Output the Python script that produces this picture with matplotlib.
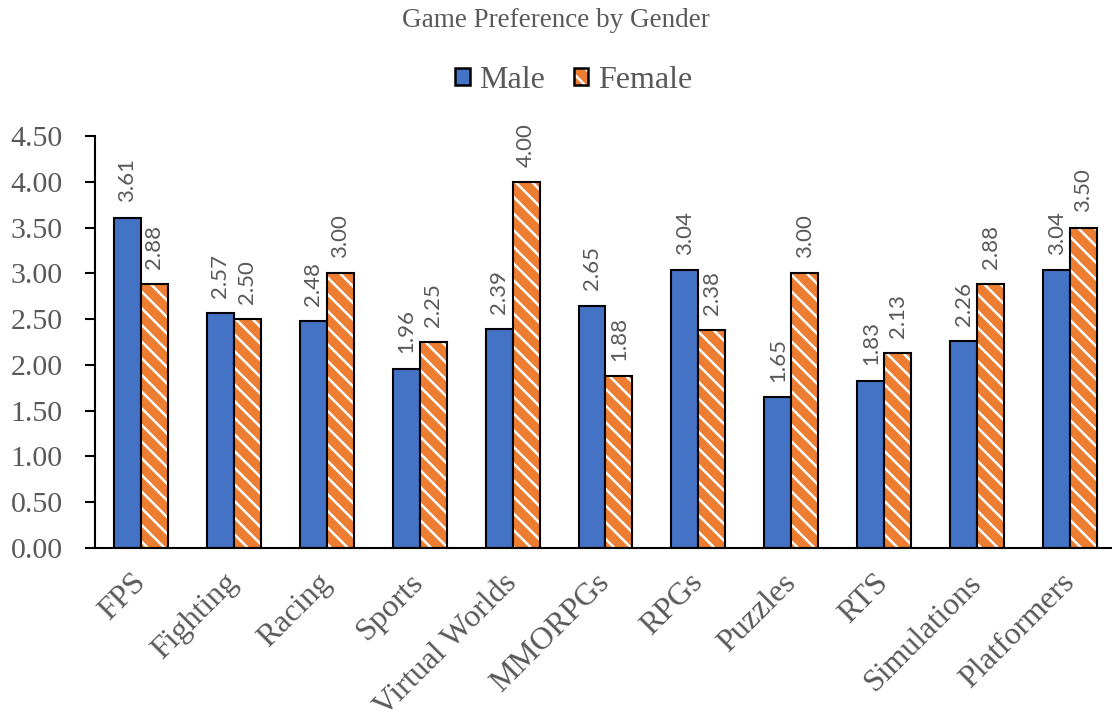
import numpy as np
import matplotlib.pyplot as plt
from matplotlib.patches import Patch

categories = ['FPS', 'Fighting', 'Racing', 'Sports', 'Virtual Worlds', 'MMORPGs',
              'RPGs', 'Puzzles', 'RTS', 'Simulations', 'Platformers']
male = [3.61, 2.57, 2.48, 1.96, 2.39, 2.65, 3.04, 1.65, 1.83, 2.26, 3.04]
female = [2.88, 2.50, 3.00, 2.25, 4.00, 1.88, 2.38, 3.00, 2.13, 2.88, 3.50]
yticks = [0.0, 0.5, 1.0, 1.5, 2.0, 2.5, 3.0, 3.5, 4.0, 4.5]

BLUE = '#4472C4'
ORANGE = '#ED7D31'
GREY = '#595959'
SERIF = 'Liberation Serif'
SANS = 'Lato'
HATCH = '\\\\'

plt.rcParams['hatch.linewidth'] = 1.8


def main():
    fig = plt.figure(figsize=(11.12, 7.21), dpi=100)
    ax = fig.add_axes([0.085, 0.24, 0.919, 0.571])

    x = np.arange(len(categories))
    w = 0.29

    ax.bar(x - w / 2, male, w, color=BLUE, edgecolor='black', linewidth=1.5, zorder=2)
    # hatched fill first, then a plain black outline on top
    ax.bar(x + w / 2, female, w, color=ORANGE, edgecolor='white', hatch=HATCH,
           linewidth=0, zorder=2)
    ax.bar(x + w / 2, female, w, fill=False, edgecolor='black', linewidth=1.5, zorder=3)

    for xs, vals in ((x - w / 2, male), (x + w / 2, female)):
        for xi, v in zip(xs, vals):
            ax.annotate(f'{v:.2f}', (xi, v), xytext=(0, 11), textcoords='offset points',
                        rotation=90, ha='center', va='bottom', fontsize=16,
                        color=GREY, family=SANS)

    ax.set_xlim(-0.5, len(categories) - 0.5)
    ax.set_ylim(0, 4.5)
    ax.set_yticks(yticks)
    ax.set_yticklabels([f'{t:.2f}' for t in yticks], fontsize=21.5, color=GREY, family=SERIF)
    ax.set_xticks(x)
    ax.set_xticklabels(categories, rotation=45, ha='right', va='center',
                       rotation_mode='anchor', fontsize=23, color=GREY, family=SERIF)
    ax.tick_params(axis='x', length=0, pad=22)
    ax.tick_params(axis='y', length=7, width=1.5, color='black', pad=16)

    for s in ('top', 'right'):
        ax.spines[s].set_visible(False)
    for s in ('left', 'bottom'):
        ax.spines[s].set_linewidth(1.5)
        ax.spines[s].set_color('black')

    fig.text(0.5, 0.972, 'Game Preference by Gender', ha='center', va='center',
             fontsize=19.5, color=GREY, family=SERIF)

    h_male = Patch(facecolor=BLUE, edgecolor='black', linewidth=1.8)
    h_fem = (Patch(facecolor=ORANGE, edgecolor='white', hatch=HATCH, linewidth=0),
             Patch(fill=False, edgecolor='black', linewidth=1.8))
    leg = fig.legend([h_male, h_fem], ['Male', 'Female'], loc='center',
                     bbox_to_anchor=(0.516, 0.889), ncol=2, frameon=False,
                     handlelength=0.45, handleheight=0.45, handletextpad=0.3,
                     columnspacing=0.9, prop={'family': SERIF, 'size': 23})
    for t in leg.get_texts():
        t.set_color(GREY)

    fig.savefig('out.png', dpi=100)


if __name__ == "__main__":
    main()
